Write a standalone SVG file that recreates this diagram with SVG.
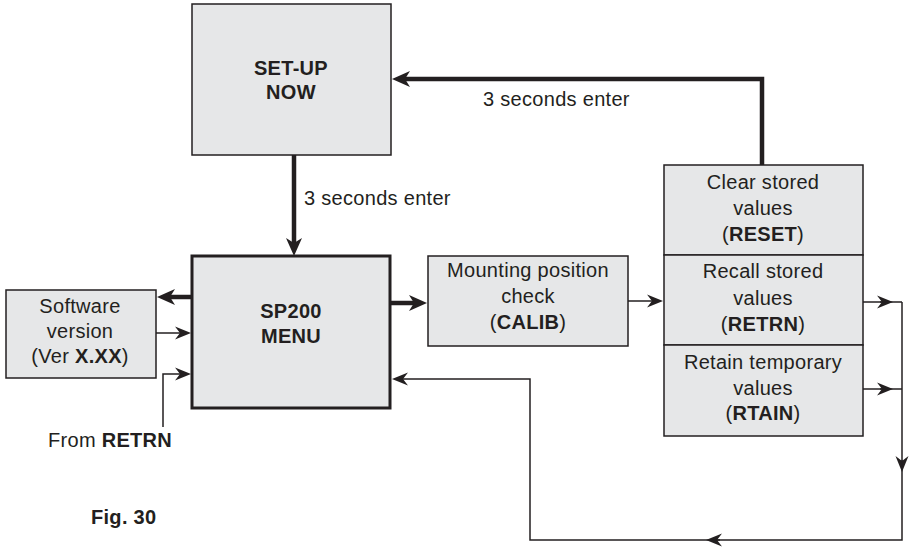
<svg xmlns="http://www.w3.org/2000/svg" width="910" height="547" viewBox="0 0 910 547">
<style>
  text { font-family: "Liberation Sans", Arial, Helvetica, sans-serif; font-size: 20px; fill: #231f20; text-anchor: middle; letter-spacing: 0.3px; }
  .b { font-weight: bold; }
  .box { fill: #e6e7e8; stroke: #231f20; stroke-width: 1.5; }
  .main { fill: #e6e7e8; stroke: #231f20; stroke-width: 3; }
  .thick { fill: none; stroke: #231f20; stroke-width: 4.5; }
  .thin { fill: none; stroke: #231f20; stroke-width: 1.5; }
  .la { text-anchor: start; }
</style>
<defs>
  <marker id="big" markerUnits="userSpaceOnUse" markerWidth="20" markerHeight="18" viewBox="-19 -9 20 18" refX="-8" refY="0" orient="auto">
    <path d="M0,0 L-18,-8 L-13,0 L-18,8 Z" fill="#231f20"/>
  </marker>
  <marker id="sm" markerUnits="userSpaceOnUse" markerWidth="18" markerHeight="16" viewBox="-17 -8 18 16" refX="-6" refY="0" orient="auto">
    <path d="M0,0 L-16,-6.5 L-11,0 L-16,6.5 Z" fill="#231f20"/>
  </marker>
</defs>

<g id="connectors">
  <path class="thick" d="M294,155 L294,248" marker-end="url(#big)"/>
  <path class="thick" d="M762,166 L762,79 L400,79" marker-end="url(#big)"/>
  <path class="thick" d="M192,297 L165,297" marker-end="url(#big)"/>
  <path class="thin" d="M156,333 L185,333" marker-end="url(#sm)"/>
  <path class="thin" d="M163,427 L163,374 L185,374" marker-end="url(#sm)"/>
  <path class="thick" d="M391,303 L419,303" marker-end="url(#big)"/>
  <path class="thin" d="M628,301 L657,301" marker-end="url(#sm)"/>
  <path class="thin" d="M863,302 L887,302" marker-end="url(#sm)"/>
  <path class="thin" d="M880,302 L902,302"/>
  <path class="thin" d="M863,389 L887,389" marker-end="url(#sm)"/>
  <path class="thin" d="M880,389 L902,389"/>
  <path class="thin" d="M902,302 L902,466" marker-end="url(#sm)"/>
  <path class="thin" d="M902,460 L902,540 L712,540" marker-end="url(#sm)"/>
  <path class="thin" d="M720,540 L530,540 L530,379 L398,379" marker-end="url(#sm)"/>
  <text class="la" x="304" y="205">3 seconds enter</text>
  <text class="la" x="483" y="106">3 seconds enter</text>
</g>

<g id="setup">
  <rect class="box" x="192" y="4" width="199" height="151"/>
  <text class="b" x="291" y="75">SET-UP</text>
  <text class="b" x="291" y="99">NOW</text>
</g>

<g id="menu">
  <rect class="main" x="192" y="256" width="198" height="152"/>
  <text class="b" x="291" y="318">SP200</text>
  <text class="b" x="291" y="343">MENU</text>
</g>

<g id="software">
  <rect class="box" x="6" y="290" width="150" height="88"/>
  <text x="80" y="313">Software</text>
  <text x="80" y="338">version</text>
  <text x="80" y="363">(Ver <tspan class="b">X.XX</tspan>)</text>
</g>

<g id="calib">
  <rect class="box" x="428" y="256" width="200" height="90"/>
  <text x="528" y="277">Mounting position</text>
  <text x="528" y="303">check</text>
  <text x="528" y="329">(<tspan class="b">CALIB</tspan>)</text>
</g>

<g id="reset">
  <rect class="box" x="664" y="165" width="199" height="90"/>
  <text x="763" y="189">Clear stored</text>
  <text x="763" y="215">values</text>
  <text x="763" y="241">(<tspan class="b">RESET</tspan>)</text>
</g>

<g id="retrn">
  <rect class="box" x="664" y="255" width="199" height="90"/>
  <text x="763" y="278">Recall stored</text>
  <text x="763" y="305">values</text>
  <text x="763" y="331">(<tspan class="b">RETRN</tspan>)</text>
</g>

<g id="rtain">
  <rect class="box" x="664" y="345" width="199" height="91"/>
  <text x="763" y="369">Retain temporary</text>
  <text x="763" y="395">values</text>
  <text x="763" y="420">(<tspan class="b">RTAIN</tspan>)</text>
</g>

<g id="labels">
  <text class="la" x="48" y="447">From <tspan class="b">RETRN</tspan></text>
  <text class="la b" x="91" y="524">Fig. 30</text>
</g>
</svg>
